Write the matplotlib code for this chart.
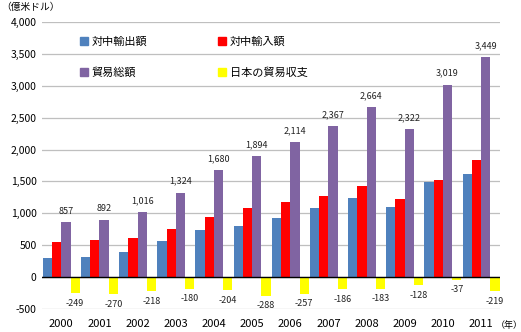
import matplotlib
matplotlib.use("Agg")
import matplotlib.pyplot as plt
import numpy as np
from matplotlib.lines import Line2D
from matplotlib.ticker import FuncFormatter

plt.rcParams['font.family'] = ['Noto Sans CJK JP', 'DejaVu Sans']

years = ["2000", "2001", "2002", "2003", "2004", "2005",
         "2006", "2007", "2008", "2009", "2010", "2011"]
exports = [304, 311, 399, 572, 738, 803, 928.5, 1090.5, 1240.5, 1097, 1491, 1615]
imports = [553, 581, 617, 752, 942, 1091, 1185.5, 1276.5, 1423.5, 1225, 1528, 1834]
total = [857, 892, 1016, 1324, 1680, 1894, 2114, 2367, 2664, 2322, 3019, 3449]
balance = [-249, -270, -218, -180, -204, -288, -257, -186, -183, -128, -37, -219]

labels = ["対中輸出額", "対中輸入額", "貿易総額", "日本の貿易収支"]
colors = ["#4F81BD", "#FF0000", "#8064A2", "#FFFF00"]

fig = plt.figure(figsize=(5.21, 3.32), dpi=100)
ax = fig.add_axes([0.081, 0.069, 0.879, 0.865])

x = np.arange(len(years))
w = 0.97 / 4
series = [exports, imports, total, balance]
for k, (vals, c) in enumerate(zip(series, colors)):
    ax.bar(x + (k - 1.5) * w, vals, width=w, color=c, zorder=3, linewidth=0)

for i in range(len(years)):
    ax.annotate(f"{total[i]:,}", (x[i] + 0.5 * w, total[i]), xytext=(0, 5),
                textcoords="offset points", ha="center", va="bottom",
                fontsize=6.5, color="#222222")
    ax.annotate(f"{balance[i]}", (x[i] + 1.5 * w, balance[i]), xytext=(0, -4),
                textcoords="offset points", ha="center", va="top",
                fontsize=6.5, color="#222222")

ax.set_xlim(-0.5, len(years) - 0.5)
ax.set_ylim(-500, 4000)
ax.set_yticks(np.arange(-500, 4001, 500))
ax.yaxis.set_major_formatter(FuncFormatter(lambda v, p: f"{int(v):,}"))
ax.set_xticks(x)
ax.set_xticklabels(years, va="center")
ax.tick_params(axis="x", length=0, pad=11, labelsize=8)
ax.tick_params(axis="y", length=0, pad=4, labelsize=7.5)
ax.grid(axis="y", color="#BFBFBF", linewidth=0.9, zorder=0)
ax.axhline(0, color="black", linewidth=1.0, zorder=4)
for s in ax.spines.values():
    s.set_visible(False)

handles = [Line2D([], [], marker="s", linestyle="none", markersize=6,
                  markerfacecolor=c, markeredgecolor=c) for c in colors]
order = [0, 2, 1, 3]
ax.legend([handles[i] for i in order], [labels[i] for i in order],
          ncol=2, frameon=False, loc="upper left",
          bbox_to_anchor=(0.06, 0.985), fontsize=8,
          handlelength=0.8, handletextpad=0.3, labelspacing=1.85,
          columnspacing=6.3)

fig.text(0.002, 0.978, "（億米ドル）", fontsize=7, ha="left", va="center")
fig.text(0.951, 0.02, "（年）", fontsize=6.5, ha="left", va="center")

fig.savefig("out.png", dpi=100)
